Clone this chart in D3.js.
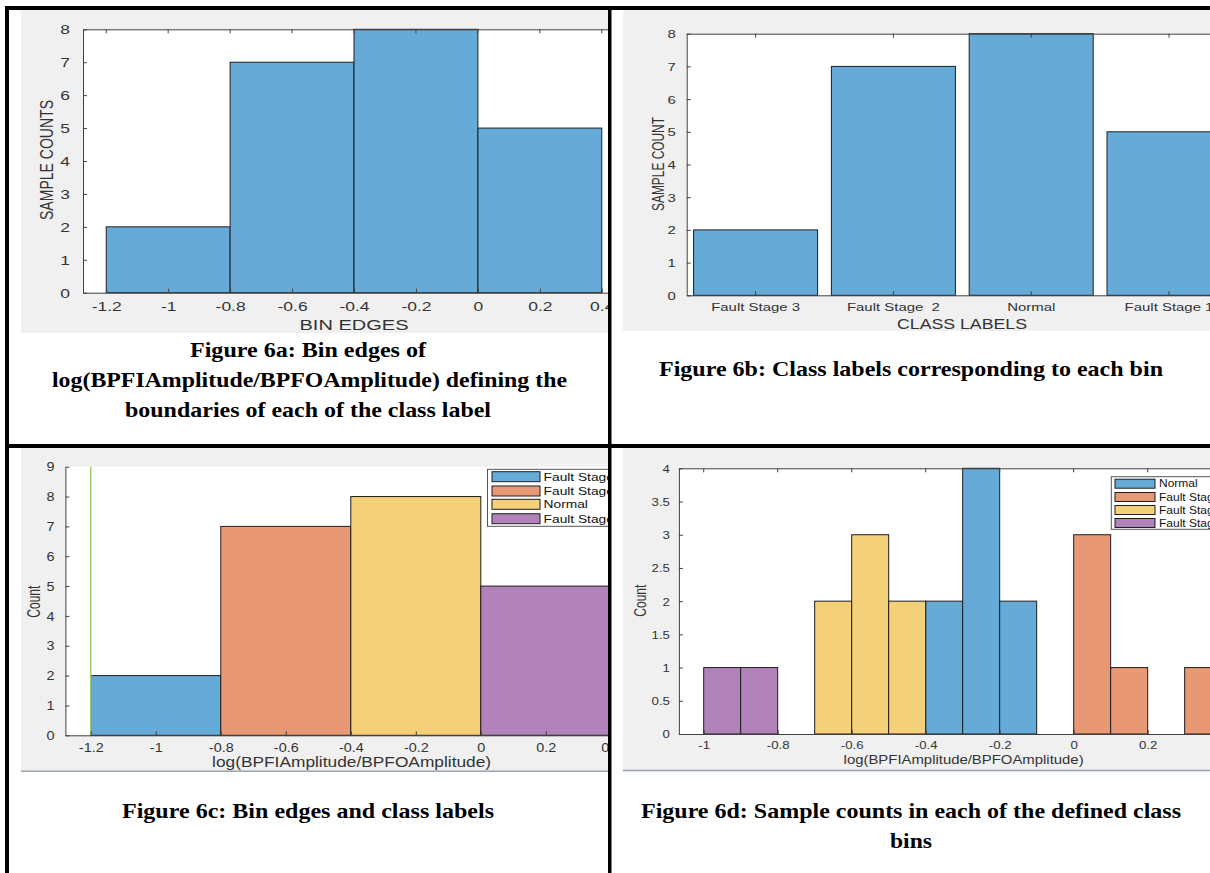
<!DOCTYPE html>
<html><head><meta charset="utf-8">
<script src="https://cdn.jsdelivr.net/npm/d3@7"></script>
<style>body{margin:0;background:#fff}svg{display:block}text{white-space:pre}</style>
</head><body>
<svg id="fig" width="1210" height="873"></svg>
<script>
// ---------- DATA ----------
// Figure 6a: histogram over bin edges
const binEdges = [-1.2, -0.8, -0.4, 0, 0.4];
const binCounts = [2, 7, 8, 5];
// Figure 6b: categorical histogram
const classLabels = ["Fault Stage 3", "Fault Stage  2", "Normal", "Fault Stage 1"];
const classCounts = [2, 7, 8, 5];
// Figure 6c: coloured bins with class legend
const classNames6c = ["Fault Stage 3", "Fault Stage 2", "Normal", "Fault Stage 1"];
const classCounts6c = [2, 7, 8, 5];
const boundaryLine6c = -1.2;
// Figure 6d: fine histogram per class
const legend6d = ["Normal", "Fault Stage 1", "Fault Stage 2", "Fault Stage 3"];
const normalEdges = [-0.4, -0.3, -0.2, -0.1];
const normalCounts = [2, 4, 2];
const stage1Edges = [0, 0.1, 0.2, 0.3, 0.4];
const stage1Counts = [3, 1, 0, 1];
const stage2Edges = [-0.7, -0.6, -0.5, -0.4];
const stage2Counts = [2, 3, 2];
const stage3Edges = [-1, -0.9, -0.8];
const stage3Counts = [1, 1];
// tick values / labels
const xTicksA = [-1.2, -1, -0.8, -0.6, -0.4, -0.2, 0, 0.2, 0.4];
const xTickLabelsA = ["-1.2", "-1", "-0.8", "-0.6", "-0.4", "-0.2", "0", "0.2", "0.4"];
const yTicksA = [0, 1, 2, 3, 4, 5, 6, 7, 8];
const yTicksC = [0, 1, 2, 3, 4, 5, 6, 7, 8, 9];
const xTicksD = [-1, -0.8, -0.6, -0.4, -0.2, 0, 0.2, 0.4];
const xTickLabelsD = ["-1", "-0.8", "-0.6", "-0.4", "-0.2", "0", "0.2", "0.4"];
const yTicksD = [0, 0.5, 1, 1.5, 2, 2.5, 3, 3.5, 4];
const yTickLabelsD = ["0", "0.5", "1", "1.5", "2", "2.5", "3", "3.5", "4"];
// captions
const captionA = ["Figure 6a: Bin edges of", "log(BPFIAmplitude/BPFOAmplitude) defining the", "boundaries of each of the class label"];
const captionB = ["Figure 6b: Class labels corresponding to each bin"];
const captionC = ["Figure 6c: Bin edges and class labels"];
const captionD = ["Figure 6d: Sample counts in each of the defined class", "bins"];

// ---------- STYLE ----------
const C = {blue: "#66aad7", orange: "#e89875", yellow: "#f4d079", purple: "#b282bb",
  green: "#9ccc65", axis: "#404040", text: "#333333", panel: "#f0f0f0", edge: "#1e1e1e"};
const FONT = "'Liberation Sans', Arial, Helvetica, sans-serif";
const SERIF = "'Liberation Serif', 'Times New Roman', serif";

const svg = d3.select("#fig");
const defs = svg.append("defs");

function makePanel(id, x0, y0, x1, y1) {
  defs.append("clipPath").attr("id", id).append("rect")
    .attr("x", x0).attr("y", y0).attr("width", x1 - x0).attr("height", y1 - y0);
  const g = svg.append("g").attr("clip-path", `url(#${id})`);
  g.append("rect").attr("x", x0).attr("y", y0).attr("width", x1 - x0).attr("height", y1 - y0)
    .attr("fill", C.panel);
  return g;
}

function plotBg(g, x, y) {
  const [xl, xr] = x.range(); const [yb, yt] = y.range();
  g.append("rect").attr("x", xl).attr("y", yt).attr("width", xr - xl).attr("height", yb - yt).attr("fill", "#fff");
}

function drawAxes(g, x, y, o) {
  const [xl, xr] = x.range(); const [yb, yt] = y.range();
  let xa = d3.axisBottom(x).tickSizeInner(-o.tick).tickSizeOuter(0);
  if (o.xTicks) xa = xa.tickValues(o.xTicks).tickFormat((d, i) => o.xLabels[i]);
  const gx = g.append("g").attr("transform", `translate(0,${yb})`).call(xa);
  let ya = d3.axisLeft(y).tickSizeInner(-o.tick).tickSizeOuter(0)
    .tickValues(o.yTicks).tickFormat((d, i) => o.yLabels ? o.yLabels[i] : String(d));
  const gy = g.append("g").attr("transform", `translate(${xl},0)`).call(ya);
  [gx, gy].forEach(a => {
    a.attr("font-family", FONT).attr("font-size", o.fs);
    a.select(".domain").attr("stroke", C.axis).attr("stroke-width", 1);
    a.selectAll(".tick line").attr("stroke", C.axis);
    a.selectAll(".tick text").attr("fill", C.text);
  });
  gx.selectAll(".tick text").attr("y", null).attr("dy", "0.35em")
    .attr("transform", `translate(0,${o.xLabOff}) scale(${o.sx},1)`);
  gy.selectAll(".tick text").attr("x", null).attr("dy", "0.35em")
    .attr("transform", `translate(${-o.yLabOff},0) scale(${o.sx},1)`);
  if (o.box) {
    g.append("line").attr("x1", xl).attr("x2", xr).attr("y1", yt + 0.5).attr("y2", yt + 0.5)
      .attr("stroke", C.axis);
    const tv = o.xTicks ? o.xTicks : x.domain();
    g.selectAll(null).data(tv).enter().append("line")
      .attr("x1", d => o.xTicks ? x(d) : x(d) + x.bandwidth() / 2)
      .attr("x2", d => o.xTicks ? x(d) : x(d) + x.bandwidth() / 2)
      .attr("y1", yt).attr("y2", yt + o.tick).attr("stroke", C.axis);
  }
}

function xTitle(g, txt, cx, base, fs, len) {
  g.append("text").attr("x", cx).attr("y", base).attr("text-anchor", "middle")
    .attr("font-family", FONT).attr("font-size", fs).attr("fill", C.text)
    .attr("textLength", len).attr("lengthAdjust", "spacingAndGlyphs").text(txt);
}
function yTitle(g, txt, cx, cy, fs, len, thick) {
  g.append("text").attr("transform", `translate(${cx + fs * 0.36 * thick},${cy}) rotate(-90) scale(1,${thick})`)
    .attr("text-anchor", "middle").attr("font-family", FONT).attr("font-size", fs).attr("fill", C.text)
    .attr("textLength", len).attr("lengthAdjust", "spacingAndGlyphs").text(txt);
}
function bars(g, x, y, edges, counts, color) {
  const d = counts.map((c, i) => ({x0: edges[i], x1: edges[i + 1], c})).filter(b => b.c > 0);
  g.selectAll(null).data(d).enter().append("rect")
    .attr("x", b => x(b.x0)).attr("width", b => x(b.x1) - x(b.x0))
    .attr("y", b => y(b.c)).attr("height", b => y(0) - y(b.c))
    .attr("fill", color).attr("stroke", C.edge).attr("stroke-width", 1);
}
function legend(g, x0, y0, h, rowY, sw, swH, tx, names, colors, fs, sx) {
  g.append("rect").attr("x", x0).attr("y", y0).attr("width", 200).attr("height", h)
    .attr("fill", "#fff").attr("stroke", "#555").attr("stroke-width", 1);
  names.forEach((n, i) => {
    g.append("rect").attr("x", sw[0]).attr("y", rowY[i] - swH / 2).attr("width", sw[1] - sw[0]).attr("height", swH)
      .attr("fill", colors[i]).attr("stroke", C.edge).attr("stroke-width", 1);
    g.append("text").attr("transform", `translate(${tx},${rowY[i]}) scale(${sx},1)`).attr("dy", "0.35em")
      .attr("font-family", FONT).attr("font-size", fs).attr("fill", "#111").text(n);
  });
}

// ---------- 6a ----------
{
  const g = makePanel("clipA", 21, 10, 608, 333);
  const x = d3.scaleLinear().domain([-1.275, 0.475]).range([83, 625]);
  const y = d3.scaleLinear().domain([0, 8]).range([292.7, 29.3]);
  plotBg(g, x, y);
  bars(g, x, y, binEdges, binCounts, C.blue);
  drawAxes(g, x, y, {tick: 4, xTicks: xTicksA, xLabels: xTickLabelsA, yTicks: yTicksA,
    fs: 12.5, sx: 1.4, xLabOff: 14, yLabOff: 13, box: true});
  xTitle(g, "BIN EDGES", 354, 330, 15, 109);
  yTitle(g, "SAMPLE COUNTS", 46, 160, 14, 120, 1.3);
}
// ---------- 6b ----------
{
  const g = makePanel("clipB", 623, 10, 1210, 331);
  const x = d3.scaleBand().domain(classLabels).range([686.7, 1237.9]).paddingInner(0.1).paddingOuter(0.05);
  const y = d3.scaleLinear().domain([0, 8]).range([295.3, 33.7]);
  plotBg(g, x, y);
  g.selectAll(null).data(classCounts).enter().append("rect")
    .attr("x", (d, i) => x(classLabels[i])).attr("width", x.bandwidth())
    .attr("y", d => y(d)).attr("height", d => y(0) - y(d))
    .attr("fill", C.blue).attr("stroke", C.edge).attr("stroke-width", 1);
  drawAxes(g, x, y, {tick: 4, yTicks: yTicksA, fs: 11.5, sx: 1.3, xLabOff: 12, yLabOff: 11, box: true});
  xTitle(g, "CLASS LABELS", 962, 329, 14, 130);
  yTitle(g, "SAMPLE COUNT", 658, 164, 12.5, 94, 1.3);
}
// ---------- 6c ----------
{
  const g = makePanel("clipC", 21, 448, 608, 772);
  const x = d3.scaleLinear().domain([-1.278, 0.483]).range([65.4, 637.8]);
  const y = d3.scaleLinear().domain([0, 9]).range([735.3, 466.7]);
  plotBg(g, x, y);
  const cols = [C.blue, C.orange, C.yellow, C.purple];
  classCounts6c.forEach((c, i) => bars(g, x, y, [binEdges[i], binEdges[i + 1]], [c], cols[i]));
  g.append("line").attr("x1", x(boundaryLine6c)).attr("x2", x(boundaryLine6c))
    .attr("y1", y(0)).attr("y2", y(9)).attr("stroke", C.green).attr("stroke-width", 1.5);
  drawAxes(g, x, y, {tick: 4, xTicks: xTicksA, xLabels: xTickLabelsA, yTicks: yTicksC,
    fs: 12, sx: 1.2, xLabOff: 12, yLabOff: 11, box: false});
  legend(g, 487.5, 469.3, 57, [476.7, 491, 504.3, 518.7], [492, 540], 10, 543.6, classNames6c, cols, 11, 1.25);
  xTitle(g, "log(BPFIAmplitude/BPFOAmplitude)", 351.6, 767, 14, 279);
  yTitle(g, "Count", 33, 601.7, 14, 32, 1.3);
  g.append("line").attr("x1", 21).attr("x2", 608).attr("y1", 771.3).attr("y2", 771.3)
    .attr("stroke", "#98a4b0").attr("stroke-width", 1.5);
}
// ---------- 6d ----------
{
  const g = makePanel("clipD", 623, 448, 1210, 772);
  const x = d3.scaleLinear().domain([-1.067, 0.472]).range([678.9, 1248.3]);
  const y = d3.scaleLinear().domain([0, 4]).range([734, 468.3]);
  plotBg(g, x, y);
  bars(g, x, y, normalEdges, normalCounts, C.blue);
  bars(g, x, y, stage1Edges, stage1Counts, C.orange);
  bars(g, x, y, stage2Edges, stage2Counts, C.yellow);
  bars(g, x, y, stage3Edges, stage3Counts, C.purple);
  drawAxes(g, x, y, {tick: 4, xTicks: xTicksD, xLabels: xTickLabelsD, yTicks: yTicksD, yLabels: yTickLabelsD,
    fs: 11, sx: 1.2, xLabOff: 11, yLabOff: 9, box: true});
  legend(g, 1111.3, 476.7, 52.6, [483.7, 497, 510, 523], [1115, 1155], 9, 1159, legend6d,
    [C.blue, C.orange, C.yellow, C.purple], 10, 1.2);
  xTitle(g, "log(BPFIAmplitude/BPFOAmplitude)", 963.6, 764, 13, 240);
  yTitle(g, "Count", 640, 600.7, 13, 32, 1.3);
  g.append("line").attr("x1", 623).attr("x2", 1210).attr("y1", 770.5).attr("y2", 770.5)
    .attr("stroke", "#98a4b0").attr("stroke-width", 1.5);
}

// ---------- captions ----------
function caption(lines, cx, bases, lens) {
  lines.forEach((t, i) => {
    svg.append("text").attr("x", cx[i]).attr("y", bases[i]).attr("text-anchor", "middle")
      .attr("font-family", SERIF).attr("font-weight", "bold").attr("font-size", 22).attr("fill", "#000")
      .attr("textLength", lens[i]).attr("lengthAdjust", "spacingAndGlyphs").text(t);
  });
}
caption(captionA, [308, 309.5, 308], [357, 387, 417], [236, 515, 366]);
caption(captionB, [911], [376], [504]);
caption(captionC, [308], [818], [372]);
caption(captionD, [911, 911], [818, 848], [540, 42]);

// ---------- table borders ----------
const borders = [[5, 6, 1205, 4], [5, 6, 4, 867], [608, 6, 3.5, 867], [5, 444, 1205, 4]];
svg.selectAll(null).data(borders).enter().append("rect")
  .attr("x", d => d[0]).attr("y", d => d[1]).attr("width", d => d[2]).attr("height", d => d[3]).attr("fill", "#000");
</script>
</body></html>
